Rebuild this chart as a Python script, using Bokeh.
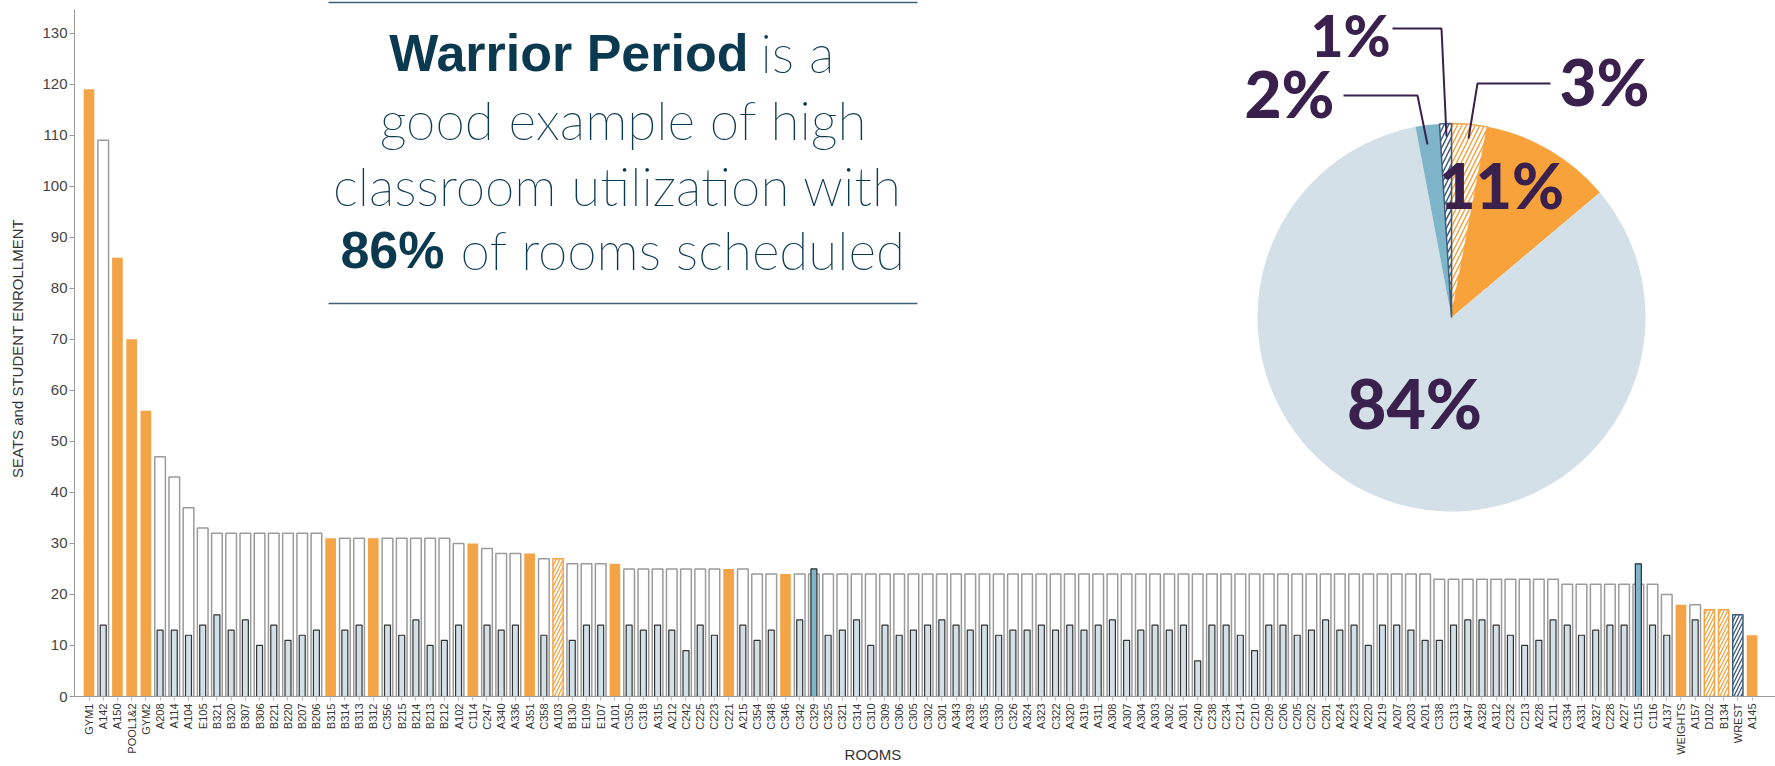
import math
from bokeh.plotting import figure
from bokeh.models import Range1d, FixedTicker
from bokeh.core.properties import value
from bokeh.embed import file_html
from bokeh.resources import INLINE

# ---------------- data ----------------
rooms = ["GYM1", "A142", "A150", "POOL1&2", "GYM2", "A208", "A114", "A104", "E105", "B321",
         "B320", "B307", "B306", "B221", "B220", "B207", "B206", "B315", "B314", "B313",
         "B312", "C356", "B215", "B214", "B213", "B212", "A102", "C114", "C247", "A340",
         "A336", "A351", "C358", "A103", "B130", "E109", "E107", "A101", "C350", "C318",
         "A315", "A212", "C242", "C225", "C223", "C221", "A215", "C354", "C348", "C346",
         "C342", "C329", "C325", "C321", "C314", "C310", "C309", "C306", "C305", "C302",
         "C301", "A343", "A339", "A335", "C330", "C326", "A324", "A323", "C322", "A320",
         "A319", "A311", "A308", "A307", "A304", "A303", "A302", "A301", "C240", "C238",
         "C234", "C214", "C210", "C209", "C206", "C205", "C202", "C201", "A224", "A223",
         "A220", "A219", "A207", "A203", "A201", "C338", "C313", "A347", "A328", "A312",
         "C232", "C213", "A228", "A211", "C334", "A331", "A327", "C228", "A227", "C115",
         "C116", "A137", "WEIGHTS", "A157", "D102", "B134", "WREST", "A145"]

seats = [119, 109, 86, 70, 56, 47, 43, 37, 33, 32,
         32, 32, 32, 32, 32, 32, 32, 31, 31, 31,
         31, 31, 31, 31, 31, 31, 30, 30, 29, 28,
         28, 28, 27, 27, 26, 26, 26, 26, 25, 25,
         25, 25, 25, 25, 25, 25, 25, 24, 24, 24,
         24, 24, 24, 24, 24, 24, 24, 24, 24, 24,
         24, 24, 24, 24, 24, 24, 24, 24, 24, 24,
         24, 24, 24, 24, 24, 24, 24, 24, 24, 24,
         24, 24, 24, 24, 24, 24, 24, 24, 24, 24,
         24, 24, 24, 24, 24, 23, 23, 23, 23, 23,
         23, 23, 23, 23, 22, 22, 22, 22, 22, 22,
         22, 20, 18, 18, 17, 17, 16, 12]

enrolled = [0, 14, 0, 0, 0, 13, 13, 12, 14, 16,
            13, 15, 10, 14, 11, 12, 13, 0, 13, 14,
            0, 14, 12, 15, 10, 11, 14, 0, 14, 13,
            14, 0, 12, 0, 11, 14, 14, 0, 14, 13,
            14, 13, 9, 14, 12, 0, 14, 11, 13, 0,
            15, 25, 12, 13, 15, 10, 14, 12, 13, 14,
            15, 14, 13, 14, 12, 13, 13, 14, 13, 14,
            13, 14, 15, 11, 13, 14, 13, 14, 7, 14,
            14, 12, 9, 14, 14, 12, 13, 15, 13, 14,
            10, 14, 14, 13, 11, 11, 14, 15, 15, 14,
            12, 10, 11, 15, 14, 12, 13, 14, 14, 26,
            14, 12, 0, 15, 0, 0, 0, 0]

# sched = scheduled, open = not scheduled, open_h = not scheduled (hatched),
# over = over capacity, wrest = wrestling (hatched)
status = ["open", "sched", "open", "open", "open", "sched", "sched", "sched", "sched", "sched",
          "sched", "sched", "sched", "sched", "sched", "sched", "sched", "open", "sched", "sched",
          "open", "sched", "sched", "sched", "sched", "sched", "sched", "open", "sched", "sched",
          "sched", "open", "sched", "open_h", "sched", "sched", "sched", "open", "sched", "sched",
          "sched", "sched", "sched", "sched", "sched", "open", "sched", "sched", "sched", "open",
          "sched", "over", "sched", "sched", "sched", "sched", "sched", "sched", "sched", "sched",
          "sched", "sched", "sched", "sched", "sched", "sched", "sched", "sched", "sched", "sched",
          "sched", "sched", "sched", "sched", "sched", "sched", "sched", "sched", "sched", "sched",
          "sched", "sched", "sched", "sched", "sched", "sched", "sched", "sched", "sched", "sched",
          "sched", "sched", "sched", "sched", "sched", "sched", "sched", "sched", "sched", "sched",
          "sched", "sched", "sched", "sched", "sched", "sched", "sched", "sched", "sched", "over",
          "sched", "sched", "open", "sched", "open_h", "open_h", "wrest", "open"]

y_ticks = [0, 10, 20, 30, 40, 50, 60, 70, 80, 90, 100, 110, 120, 130]

pie_labels = ["3%", "11%", "84%", "2%", "1%"]
pie_values = [3, 11, 84, 2, 1]
pie_kinds = ["open_h", "open", "sched", "over", "wrest"]

# ---------------- geometry / style ----------------
W, H = 1775, 766
ML, MB = 74, 70
FRAME_B = H - MB        # page y of the zero line
PX_CAT = 14.214         # px per room
FIRST = 88.5            # page x of first room centre
PX_UNIT = 5.103         # px per seat
x0 = (ML - FIRST) / PX_CAT
x1 = x0 + (W - ML) / PX_CAT
y1 = FRAME_B / PX_UNIT

def dx(px):  # page px -> data x
    return x0 + (px - ML) / PX_CAT

def dy(py):  # page px -> data y
    return (FRAME_B - py) / PX_UNIT

def ty(baseline, fs):  # text anchor for a wanted baseline
    return dy(baseline - 0.43 * fs)

ORANGE = "#f2a447"
GREY_BLUE = "#d3e0e7"
TEAL = "#7fb5c8"
NAVY = "#3e5b7b"
PURPLE = "#39204d"
TITLE_C = "#0b3a50"

p = figure(width=W, height=H, output_backend="svg", toolbar_location=None,
           x_range=Range1d(x0, x1), y_range=Range1d(0, y1),
           min_border_left=ML, min_border_bottom=MB, min_border_top=0, min_border_right=0)
p.outline_line_color = None
p.xgrid.grid_line_color = None
p.ygrid.grid_line_color = None
p.background_fill_color = "white"
p.border_fill_color = "white"

# axes
p.yaxis.ticker = FixedTicker(ticks=y_ticks)
p.yaxis.bounds = (0, dy(9))
p.yaxis.minor_tick_line_color = None
p.yaxis.major_tick_in = 0
p.yaxis.major_tick_out = 5
p.yaxis.axis_line_color = "#9a9a9a"
p.yaxis.major_tick_line_color = "#9a9a9a"
p.yaxis.major_label_text_font = "Liberation Sans"
p.yaxis.major_label_text_font_size = "15px"
p.yaxis.major_label_text_color = "#444444"
p.yaxis.major_label_standoff = 2
p.yaxis.axis_label = "SEATS and STUDENT ENROLLMENT"
p.yaxis.axis_label_text_font = "Liberation Sans"
p.yaxis.axis_label_text_font_style = "normal"
p.yaxis.axis_label_text_font_size = "15px"
p.yaxis.axis_label_text_color = "#333333"
p.yaxis.axis_label_standoff = 13

p.xaxis.ticker = FixedTicker(ticks=list(range(len(rooms))))
p.xaxis.major_label_overrides = {i: r for i, r in enumerate(rooms)}
p.xaxis.major_label_orientation = math.pi / 2
p.xaxis.minor_tick_line_color = None
p.xaxis.major_tick_in = 0
p.xaxis.major_tick_out = 4
p.xaxis.axis_line_color = "#9a9a9a"
p.xaxis.major_tick_line_color = "#bbbbbb"
p.xaxis.major_label_text_font = "Liberation Sans"
p.xaxis.major_label_text_font_size = "11px"
p.xaxis.major_label_text_color = "#333333"
p.xaxis.major_label_standoff = 3
# axis title, shifted left of the frame centre with trailing no-break spaces
p.xaxis.axis_label = "ROOMS" + "\u00a0" * 25
p.xaxis.axis_label_text_font = "Liberation Sans"
p.xaxis.axis_label_text_font_style = "normal"
p.xaxis.axis_label_text_font_size = "15px"
p.xaxis.axis_label_text_color = "#333333"
p.xaxis.axis_label_standoff = -12

# ---------------- bars ----------------
def pick(kinds, vals):
    idx = [i for i, s in enumerate(status) if s in kinds]
    return idx, [vals[i] for i in idx]

xi, top = pick(("sched", "over"), seats)
p.vbar(x=xi, top=top, width=0.75, fill_color="white", line_color="#9b9b9b", line_width=1.5)

xi, top = pick(("sched",), enrolled)
p.vbar(x=xi, top=top, width=0.42, fill_color=GREY_BLUE, line_color="#333333", line_width=1.2)

xi, top = pick(("over",), enrolled)
p.vbar(x=xi, top=top, width=0.42, fill_color=TEAL, line_color="#2a2a2a", line_width=1.2)

xi, top = pick(("open",), seats)
p.vbar(x=xi, top=top, width=0.75, fill_color=ORANGE, line_color=None)

xi, top = pick(("open_h",), seats)
p.vbar(x=xi, top=top, width=0.72, fill_color="white", line_color=ORANGE, line_width=1.5,
       hatch_pattern="/", hatch_color=ORANGE, hatch_scale=7, hatch_weight=1.3)

xi, top = pick(("wrest",), seats)
p.vbar(x=xi, top=top, width=0.72, fill_color="white", line_color=NAVY, line_width=1.5,
       hatch_pattern="/", hatch_color=NAVY, hatch_scale=7, hatch_weight=1.3)

# ---------------- pie ----------------
cx, cy, R = dx(1451), dy(317), 194
total = float(sum(pie_values))
styles = {
    "open_h": dict(fill_color="white", line_color=ORANGE, line_width=1.5, hatch_pattern="/",
                   hatch_color=ORANGE, hatch_scale=9, hatch_weight=1.5),
    "open": dict(fill_color="#f7a23b", line_color=None),
    "sched": dict(fill_color=GREY_BLUE, line_color=None),
    "over": dict(fill_color=TEAL, line_color=None),
    "wrest": dict(fill_color="white", line_color=NAVY, line_width=1.5, hatch_pattern="/",
                  hatch_color=NAVY, hatch_scale=9, hatch_weight=1.5),
}
cum = 0.0
for v, k in zip(pie_values, pie_kinds):
    a0 = math.pi / 2 - 2 * math.pi * cum / total
    cum += v
    a1 = math.pi / 2 - 2 * math.pi * cum / total
    p.wedge(x=cx, y=cy, radius=R, radius_units="screen", start_angle=a0, end_angle=a1,
            direction="clock", **styles[k])

# leader lines
leaders = [
    [(1392, 28), (1441, 28), (1446, 136)],   # 1%
    [(1343, 95), (1417, 95), (1427, 144)],   # 2%
    [(1550, 83), (1477, 83), (1468, 138)],   # 3%
]
for pts in leaders:
    p.line([dx(a) for a, b in pts], [dy(b) for a, b in pts], line_color=PURPLE, line_width=2)

pie_pos = {"1%": (1350, 59, 57), "2%": (1289, 121, 64), "3%": (1604, 109, 64),
           "11%": (1501, 211, 63), "84%": (1414, 431, 68)}
for lab in pie_labels:
    px, py, fs = pie_pos[lab]
    p.text(x=[dx(px)], y=[ty(py, fs)], text=[lab], text_font=value("Lato Black, Lato"),
           text_font_style="bold", text_font_size=f"{fs}px", text_color=PURPLE,
           text_align="center", text_baseline="alphabetic")

# ---------------- headline box ----------------
p.segment(x0=[dx(328), dx(328)], y0=[dy(2), dy(303)], x1=[dx(917), dx(917)], y1=[dy(2), dy(303)],
          line_color="#3d6277", line_width=1.5)

def txt(s, px, py, align, bold):
    fs = 52 if bold else 53
    p.text(x=[dx(px)], y=[ty(py, fs)], text=[s],
           text_font=value("Liberation Sans" if bold else "Lato Thin, Lato Light, Lato"),
           text_font_style="bold" if bold else "normal",
           text_font_size=f"{fs}px", text_color=TITLE_C, text_align=align,
           text_baseline="alphabetic")

txt("Warrior Period", 748, 75, "right", True)
txt("is a", 760, 75, "left", False)
txt("good example of high", 623, 142, "center", False)
txt("classroom utilization with", 617, 208, "center", False)
txt("86%", 444, 272, "right", True)
txt("of rooms scheduled", 460, 272, "left", False)

open("out.html", "w").write(file_html(p, INLINE))
